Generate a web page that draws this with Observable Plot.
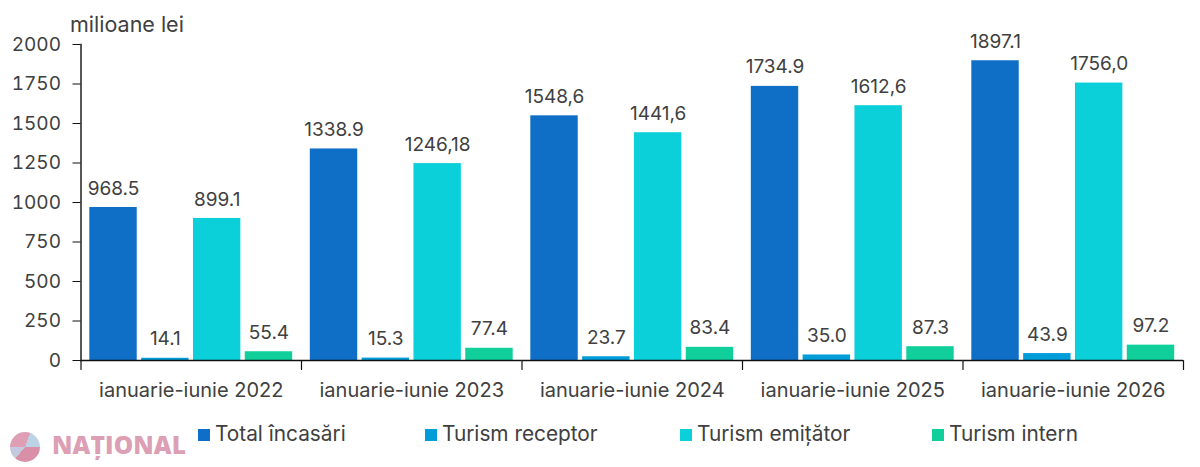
<!DOCTYPE html>
<html><head><meta charset="utf-8">
<script src="https://cdn.jsdelivr.net/npm/d3@7"></script>
<script src="https://cdn.jsdelivr.net/npm/@observablehq/plot@0.6"></script>
<style>
html,body{margin:0;padding:0;background:#fff;overflow:hidden}
body{width:1200px;height:467px;position:relative;font-family:Inter,sans-serif;color:#404040}
#legend{position:absolute;top:423px;left:0;width:1200px;height:24px;font-size:20.8px}
#legend span.item{position:absolute;top:0;white-space:nowrap;line-height:22px}
#legend i{display:inline-block;width:12px;height:12px;margin-right:5px;vertical-align:0}
#logo{position:absolute;left:10px;top:432px;width:175px;height:34px}
#logo b{position:absolute;left:42px;top:-4px;font:800 24.5px "Open Sans",sans-serif;color:#dc9fb4;letter-spacing:.1px}
#logo u{position:absolute;left:0;top:0;width:30px;height:30px;border-radius:50%;background:conic-gradient(from 20deg,#bcd3e6 0 70deg,#d98fa8 70deg 200deg,#c3c9de 200deg 250deg,#de9fb4 250deg 360deg)}
svg{position:absolute;left:0;top:0;overflow:visible}
</style></head><body>
<div id="chart"></div><div id="logo"><u></u><b>NAȚIONAL</b></div><div id="legend"></div>
<script>
const years = ["ianuarie-iunie 2022","ianuarie-iunie 2023","ianuarie-iunie 2024","ianuarie-iunie 2025","ianuarie-iunie 2026"];
const seriesNames = ["Total încasări","Turism receptor","Turism emițător","Turism intern"];
const colors = ["#0F6FC6","#009DD9","#0BD0D9","#10CF9B"];
const total = [968.5,1338.9,1548.6,1734.9,1897.1];
const receptor = [14.1,15.3,23.7,35.0,43.9];
const emitator = [899.1,1246.18,1441.6,1612.6,1756.0];
const intern = [55.4,77.4,83.4,87.3,97.2];
const totalLabels = ["968.5","1338.9","1548,6","1734.9","1897.1"];
const receptorLabels = ["14.1","15.3","23.7","35.0","43.9"];
const emitatorLabels = ["899.1","1246,18","1441,6","1612,6","1756,0"];
const internLabels = ["55.4","77.4","83.4","87.3","97.2"];
const yTicks = [0,250,500,750,1000,1250,1500,1750,2000];
const legendLeft = [198,425,680,932];

const columns = [total,receptor,emitator,intern];
const labels = [totalLabels,receptorLabels,emitatorLabels,internLabels];
const rows = years.flatMap((y,i)=>seriesNames.map((s,j)=>({year:y,series:s,value:columns[j][i],label:labels[j][i]})));
const tickShape = {draw(c,l){c.moveTo(0,0);c.lineTo(0,-l);}};
const ink = "#111";
const plot = Plot.plot({
  width:1200,height:420,marginTop:44,marginBottom:60,marginLeft:80.5,marginRight:17,
  style:{fontFamily:"Inter,sans-serif",fontSize:"18px",color:"#404040",background:"transparent"},
  fx:{domain:years,padding:0,round:false,label:null,axis:null},
  x:{domain:seriesNames,paddingInner:0.085,paddingOuter:0.17,round:false,axis:null},
  y:{domain:[0,2000],axis:null},
  color:{domain:seriesNames,range:colors},
  marks:[
    Plot.barY(rows,{fx:"year",x:"series",y:"value",fill:"series"}),
    Plot.text(rows,{fx:"year",x:"series",y:"value",text:"label",dy:-19,fill:"#404040",fontSize:19}),
    Plot.ruleY([0],{stroke:ink,strokeWidth:1.4}),
    Plot.vector(years,{fx:d=>d,frameAnchor:"bottom-left",length:9,rotate:180,anchor:"start",shape:tickShape,stroke:ink,strokeWidth:1.2}),
    Plot.vector(years.slice(-1),{fx:d=>d,frameAnchor:"bottom-right",length:9,rotate:180,anchor:"start",shape:tickShape,stroke:ink,strokeWidth:1.2}),
    Plot.text(years,{fx:d=>d,text:d=>d,frameAnchor:"bottom",dy:36,fill:"#404040",fontSize:20}),
    Plot.frame({anchor:"left",fx:[years[0]],stroke:ink,strokeWidth:1.4}),
    Plot.axisY({ticks:yTicks,tickFormat:"d",tickSize:8,tickPadding:12,label:null,anchor:"left",fontSize:19,stroke:ink,fill:"#404040"}),
    Plot.text(["milioane lei"],{fx:[years[0]],text:d=>d,frameAnchor:"top-left",textAnchor:"start",dx:-11,dy:-28,fill:"#404040",fontSize:21.5})
  ]
});
document.getElementById("chart").append(plot);
const legend = d3.select("#legend");
seriesNames.forEach((s,i)=>{
  const it = legend.append("span").attr("class","item").style("left",legendLeft[i]+"px");
  it.append("i").style("background",colors[i]);
  it.append("span").text(s);
});
</script></body></html>
